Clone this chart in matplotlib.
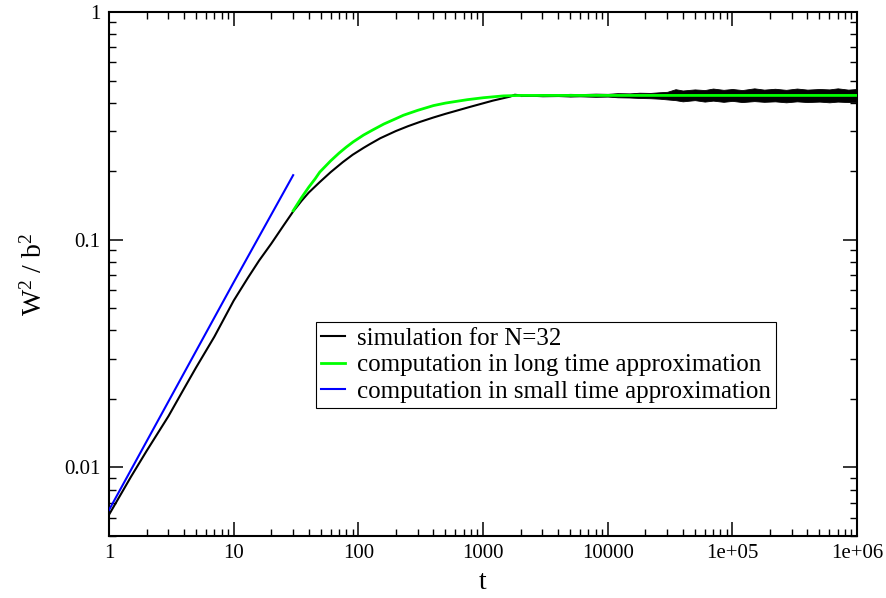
import numpy as np
import matplotlib
matplotlib.use('Agg')
import matplotlib.pyplot as plt
from matplotlib.ticker import LogLocator, NullFormatter

plt.rcParams['font.family'] = ['Liberation Serif', 'DejaVu Serif']
plt.rcParams['mathtext.fontset'] = 'custom'
plt.rcParams['mathtext.rm'] = 'Liberation Serif'
plt.rcParams['mathtext.it'] = 'Liberation Serif:italic'

# simulation for N=32 (smooth part)
t_sim = [1, 1.5, 2, 3, 4, 5, 7, 10, 13, 16, 20, 25, 30, 35, 40, 49, 60, 75, 90, 110, 124,
         150, 200, 250, 312, 400, 500, 630, 787, 1000, 1200, 1450, 1650, 1800, 2000]
w_sim = [0.0062, 0.0091, 0.0118, 0.0168, 0.0222, 0.0275, 0.0375, 0.054, 0.068, 0.081, 0.096,
         0.115, 0.133, 0.148, 0.161, 0.179, 0.198, 0.219, 0.236, 0.253, 0.263, 0.279, 0.300,
         0.315, 0.329, 0.344, 0.357, 0.370, 0.383, 0.397, 0.408, 0.418, 0.425, 0.433, 0.430]

# simulation, noisy plateau (envelope)
t_noise = [2000, 2500, 3000, 4000, 5000, 6000, 8000, 10000, 12000, 15000, 18000, 22000,
           26000, 30000, 35000, 40000, 50000, 60000, 70000, 85000, 100000, 120000, 150000,
           180000, 220000, 270000, 330000, 400000, 500000, 600000, 700000, 850000, 1000000]
w_up = [0.434, 0.433, 0.436, 0.435, 0.437, 0.436, 0.438, 0.437, 0.440, 0.439, 0.442, 0.441,
        0.444, 0.446, 0.458, 0.452, 0.457, 0.454, 0.461, 0.455, 0.459, 0.454, 0.462, 0.456,
        0.460, 0.455, 0.461, 0.456, 0.459, 0.457, 0.462, 0.456, 0.459]
w_lo = [0.427, 0.428, 0.426, 0.427, 0.425, 0.426, 0.424, 0.425, 0.422, 0.421, 0.419, 0.418,
        0.416, 0.413, 0.410, 0.405, 0.410, 0.404, 0.408, 0.403, 0.407, 0.402, 0.406, 0.403,
        0.405, 0.401, 0.405, 0.402, 0.404, 0.401, 0.404, 0.402, 0.403]

# long time approximation
t_long = [30, 35, 40, 45, 49, 60, 70, 80, 91, 110, 130, 160, 200, 230, 300, 400, 500, 578,
          750, 1000, 1455, 2000, 1000000]
w_long = [0.134, 0.153, 0.170, 0.185, 0.198, 0.222, 0.240, 0.255, 0.269, 0.288, 0.303, 0.322,
          0.340, 0.352, 0.370, 0.388, 0.398, 0.403, 0.412, 0.420, 0.428, 0.430, 0.430]

# small time approximation
t_short = [1, 3, 10, 30]
w_short = [0.0065, 0.0195, 0.065, 0.192]

xticks = [1, 10, 100, 1000, 10000, 1e5, 1e6]
xlabels = ['1', '10', '100', '1000', '10000', '1e+05', '1e+06']
yticks = [0.01, 0.1, 1]
ylabels = ['0.01', '0.1', '1']

fig = plt.figure(figsize=(8.87, 5.98), dpi=100)
ax = fig.add_axes([0.1229, 0.1037, 0.8433, 0.8763])

ax.plot(t_sim, w_sim, color='black', lw=1.5, label='simulation for N=32', zorder=2)
ax.fill_between(t_noise, w_lo, w_up, color='black', lw=0.6, zorder=2)
ax.plot(t_long, w_long, color='#00ff00', lw=2.0, label='computation in long time approximation', zorder=3)
ax.plot(t_short, w_short, color='#0000ff', lw=1.5, label='computation in small time approximation', zorder=3)

ax.set_xscale('log')
ax.set_yscale('log')
ax.set_xlim(1, 1e6)
ax.set_ylim(0.005, 1)

ax.set_xticks(xticks)
ax.set_xticklabels(xlabels)
ax.set_yticks(yticks)
ax.set_yticklabels(ylabels)
ax.xaxis.set_minor_locator(LogLocator(base=10, subs=np.arange(2, 10), numticks=20))
ax.yaxis.set_minor_locator(LogLocator(base=10, subs=np.arange(2, 10), numticks=20))
ax.xaxis.set_minor_formatter(NullFormatter())
ax.yaxis.set_minor_formatter(NullFormatter())

ax.tick_params(which='both', direction='in', top=True, right=True, labelsize=15)
ax.tick_params(which='major', length=10, width=1.1, pad=6)
ax.tick_params(which='minor', length=5, width=1.0)
for s in ax.spines.values():
    s.set_linewidth(1.5)

ax.set_xlabel('t', fontsize=20, labelpad=5)
ax.set_ylabel(r'W$^2$ / b$^2$', fontsize=20, labelpad=12)

leg = ax.legend(loc='upper left', bbox_to_anchor=(0.277, 0.408), fontsize=18,
                frameon=True, fancybox=False, edgecolor='black', framealpha=1,
                handlelength=0.95, handletextpad=0.5, borderpad=0.2, labelspacing=0.17,
                borderaxespad=0)
leg.get_frame().set_linewidth(0.8)

fig.savefig('out.png', dpi=100)
